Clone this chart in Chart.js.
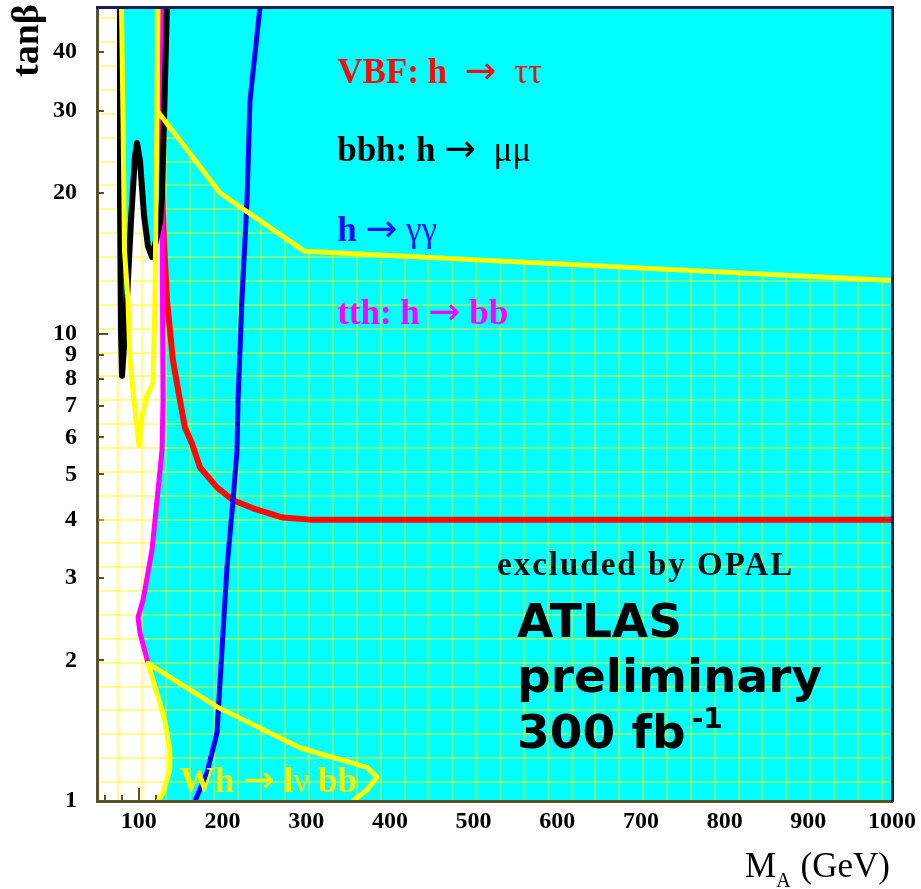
<!DOCTYPE html>
<html>
<head>
<meta charset="utf-8">
<script src="https://cdn.jsdelivr.net/npm/chart.js@4.4.1/dist/chart.umd.min.js"></script>
<style>
  html, body { margin: 0; padding: 0; background: #fff; }
  canvas { display: block; }
</style>
</head>
<body>
<canvas id="reach" width="921" height="889"></canvas>
<script>
// axis ticks
var massTicks = [100, 200, 300, 400, 500, 600, 700, 800, 900, 1000];
var tanbTicks = [1, 2, 3, 4, 5, 6, 7, 8, 9, 10, 20, 30, 40];

// contours, M_A (GeV) vs tan(beta)
// tth: h -> bb, running down to where the Wh contour takes over
var tthX = [127.7, 127.7, 128.9, 127.7, 121.7, 115.7, 105, 99, 101.4, 111];
var tthY = [50, 19.2, 7.19, 5.62, 4.40, 3.44, 2.69, 2.47, 2.29, 1.97];

// Wh -> l nu bb, from the bottom up the left branch then out to the tip
var whX = [123, 129, 137, 137, 131, 121.7, 111, 193.4, 292.5, 372.6, 384.5, 372.6, 355.8];
var whY = [1.0, 1.04, 1.165, 1.29, 1.49, 1.70, 1.97, 1.59, 1.30, 1.18, 1.125, 1.056, 1.0];

// VBF: h -> tau tau
var vbfX = [126.5, 127.5, 130, 133.6, 140.8, 149.2, 155.1, 163.5, 173.1, 193.4, 212.5, 236.4, 272.2, 304.5, 1000];
var vbfY = [50, 21, 15.8, 11.8, 8.76, 7.19, 6.30, 5.82, 5.17, 4.69, 4.40, 4.23, 4.04, 4.0, 4.0];

// h -> gamma gamma
var gamX = [244.7, 232.8, 229.2, 223.2, 218.5, 217.3, 212.5, 205.3, 199.3, 193.4, 181.4, 167.1];
var gamY = [50, 31.5, 19.2, 11.8, 7.19, 5.62, 4.40, 3.16, 2.10, 1.40, 1.15, 1.0];

// bbh: h -> mu mu
var mumuX = [77.5, 77.5, 78.7, 79.9, 82.3, 85.8, 90.6, 95.4, 97.8, 101.4, 106.2, 110.9, 115.7, 120.5, 125.3, 127.7, 130, 133.6];
var mumuY = [50, 19.2, 10.1, 8.13, 9.42, 11.8, 17.4, 24.0, 25.6, 23.4, 17.9, 15.4, 14.6, 15.8, 17.3, 19.7, 28.5, 50];

// LEP edge at low M_A (the yellow V) and the upper edge
var lepLowX = [79.3, 81.1, 82.9, 87.0, 89.4, 94.2, 100.2, 103.8, 109.7, 116.9, 119.3, 120.5, 121.7, 122.9];
var lepLowY = [50, 28.5, 15.0, 11.8, 8.76, 7.19, 5.76, 6.68, 7.37, 7.82, 11.8, 19.2, 30, 50];
var lepHighX = [122, 122, 197, 298, 1000];
var lepHighY = [50, 30, 20, 15, 13];

var cyan = '#00ffff';
var mesh = 'rgba(255, 255, 0, 0.45)';
var frameLow = '#56532a';
var frameHigh = '#1c1c5c';
var serif = '"Liberation Serif", "Times New Roman", serif';
var bold = 'bold 35px ' + serif;
var greek = '35px ' + serif;
var arrow = '38px "DejaVu Sans"';
var sans = 'bold 47px "DejaVu Sans"';

function pts(xs, ys) {
  return xs.map(function (x, i) { return {x: x, y: ys[i]}; });
}

// labels inside the frame, placed in axis units; each part is [text, font]
var notes = [
  {x: 337, y: 34.4, color: '#ee1111', parts: [['VBF: h  ', bold], ['\u2192', arrow], ['  \u03c4\u03c4', greek]]},
  {x: 337, y: 23.4, color: '#000000', parts: [['bbh: h ', bold], ['\u2192', arrow], ['  \u03bc\u03bc', greek]]},
  {x: 337, y: 15.8, color: '#1010ff', parts: [['h ', bold], ['\u2192', arrow], [' \u03b3\u03b3', greek]]},
  {x: 337, y: 10.5, color: '#ff00ff', parts: [['tth: h ', bold], ['\u2192', arrow], [' bb', bold]]},
  {x: 149, y: 1.045, color: '#f2f200', parts: [['Wh ', bold], ['\u2192', arrow], [' l', bold], ['\u03bd', greek], [' bb', bold]]},
  {x: 528, y: 3.04, color: '#111111', spacing: '2px', parts: [['excluded by OPAL', 'bold 33px ' + serif]]},
  {x: 552, y: 2.24, color: '#000000', parts: [['ATLAS', sans]]},
  {x: 552, y: 1.71, color: '#000000', parts: [['preliminary', sans]]},
  {x: 552, y: 1.30, color: '#000000', parts: [['300 fb', sans]], sup: '-1'}
];

var overlay = {
  id: 'overlay',
  beforeDraw: function (chart) {
    var ctx = chart.ctx, a = chart.chartArea, sx = chart.scales.x, sy = chart.scales.y;
    ctx.save();
    // tick marks pointing into the frame (only show where the region is white)
    ctx.strokeStyle = frameLow;
    ctx.lineWidth = 2;
    ctx.beginPath();
    tanbTicks.concat([50]).forEach(function (v) {
      var py = Math.round(sy.getPixelForValue(v));
      ctx.moveTo(a.left, py);
      ctx.lineTo(a.left + (v === 10 ? 11 : 7), py);
    });
    for (var m = 60; m <= 1000; m += 20) {
      var px = Math.round(sx.getPixelForValue(m));
      ctx.moveTo(px, a.bottom);
      ctx.lineTo(px, a.bottom - (m % 100 === 0 ? 13 : 6));
    }
    ctx.stroke();

    // region to the right of the tth and Wh contours
    var edge = pts(tthX, tthY)
      .concat(pts(whX, whY).slice(0, 7).reverse())
      .concat([{x: 1000, y: 1}, {x: 1000, y: 50}]);
    ctx.beginPath();
    edge.forEach(function (p, i) {
      var px = sx.getPixelForValue(p.x), py = sy.getPixelForValue(p.y);
      if (i) ctx.lineTo(px, py); else ctx.moveTo(px, py);
    });
    ctx.closePath();
    ctx.fillStyle = cyan;
    ctx.fill();
    ctx.restore();
  },
  afterDraw: function (chart) {
    var ctx = chart.ctx, a = chart.chartArea, sx = chart.scales.x, sy = chart.scales.y;
    ctx.save();
    ctx.textAlign = 'left';
    ctx.textBaseline = 'alphabetic';
    notes.forEach(function (n) {
      var px = sx.getPixelForValue(n.x), py = sy.getPixelForValue(n.y);
      ctx.fillStyle = n.color;
      ctx.letterSpacing = n.spacing || '0px';
      n.parts.forEach(function (p) {
        ctx.font = p[1];
        ctx.fillText(p[0], px, py);
        px += ctx.measureText(p[0]).width;
      });
      if (n.sup) {
        ctx.font = 'bold 28px "DejaVu Sans"';
        ctx.fillText(n.sup, px + 6, py - 20);
      }
    });
    ctx.letterSpacing = '0px';

    // axis titles
    ctx.fillStyle = '#000';
    ctx.font = 'bold 38px ' + serif;
    ctx.save();
    ctx.translate(a.left - 59, a.top + 70);
    ctx.rotate(-Math.PI / 2);
    ctx.fillText('tan\u03b2', 0, 0);
    ctx.restore();

    ctx.font = '35px ' + serif;
    ctx.textAlign = 'right';
    var base = a.bottom + 76;
    var right = a.right - 2;
    ctx.fillText('(GeV)', right, base);
    var wG = ctx.measureText('(GeV)').width;
    ctx.font = '20px ' + serif;
    ctx.fillText('A', right - wG - 10, base + 10);
    var wA = ctx.measureText('A').width;
    ctx.font = '35px ' + serif;
    ctx.fillText('M', right - wG - 10 - wA, base);
    ctx.restore();
  }
};

function line(data, color, width, order) {
  return {
    data: data, showLine: true, borderColor: color, borderWidth: width,
    pointRadius: 0, fill: false, tension: 0, order: order,
    borderJoinStyle: 'round', borderCapStyle: 'round'
  };
}

function area(data) {
  return {
    data: data, showLine: true, borderColor: 'rgba(0,0,0,0)', borderWidth: 1,
    backgroundColor: cyan, pointRadius: 0, fill: 'shape', order: 9
  };
}

// no extra room around the frame for the edge labels
function noPad(s) {
  s.paddingTop = 0; s.paddingBottom = 0; s.paddingLeft = 0; s.paddingRight = 0;
}

var ctx = document.getElementById('reach');
var reachChart = new Chart(ctx, {
  type: 'scatter',
  data: {
    datasets: [
      area(pts(lepHighX, lepHighY).concat([{x: 1000, y: 50}])),
      area(pts(mumuX, mumuY)),
      line(pts(vbfX, vbfY), '#ff0a00', 6, 8),
      line(pts(tthX, tthY), '#ff00ff', 5, 7),
      line(pts(mumuX, mumuY), '#000000', 6, 6),
      line(pts(gamX, gamY), '#0000ff', 5, 5),
      line(pts(whX, whY), '#ffff00', 5, 4),
      line(pts(lepLowX, lepLowY), '#ffff00', 5, 4),
      line(pts(lepHighX, lepHighY), '#ffff00', 5, 4)
    ]
  },
  options: {
    responsive: false,
    animation: false,
    devicePixelRatio: 1,
    layout: { padding: { top: 7, right: 29, left: 0, bottom: 0 } },
    plugins: { legend: { display: false }, tooltip: { enabled: false } },
    scales: {
      x: {
        type: 'linear', position: 'bottom', min: 50, max: 1000,
        afterBuildTicks: function (s) { s.ticks = massTicks.map(function (v) { return {value: v}; }); },
        afterFit: function (s) { s.height = 88; noPad(s); },
        ticks: { autoSkip: false, maxRotation: 0, padding: 6, color: '#000', font: { family: serif, size: 24, weight: 'bold' },
                 callback: function (v) { return String(v); } },
        grid: { drawOnChartArea: false, drawTicks: false },
        border: { color: frameLow, width: 3, z: 1 }
      },
      y: {
        type: 'logarithmic', position: 'left', min: 1, max: 50,
        afterBuildTicks: function (s) { s.ticks = tanbTicks.map(function (v) { return {value: v}; }); },
        afterFit: function (s) { s.width = 97; noPad(s); },
        ticks: { autoSkip: false, padding: 20, color: '#000', font: { family: serif, size: 24, weight: 'bold' },
                 callback: function (v) { return String(v); } },
        grid: { drawOnChartArea: false, drawTicks: false },
        border: { color: frameLow, width: 3, z: 1 }
      },
      // background mesh, one cell per step
      gx: {
        type: 'linear', position: 'top', min: -0.889, max: 32.43,
        afterFit: function (s) { s.height = 0; noPad(s); },
        ticks: { display: false, stepSize: 1, includeBounds: false },
        grid: { color: mesh, lineWidth: 2, drawTicks: false },
        border: { color: frameHigh, width: 3, z: 1 }
      },
      gy: {
        type: 'linear', position: 'right', min: -0.796, max: 32.48,
        afterFit: function (s) { s.width = 0; noPad(s); },
        ticks: { display: false, stepSize: 1, includeBounds: false },
        grid: { color: mesh, lineWidth: 2, drawTicks: false },
        border: { color: frameHigh, width: 3, z: 1 }
      }
    }
  },
  plugins: [overlay]
});
</script>
</body>
</html>
